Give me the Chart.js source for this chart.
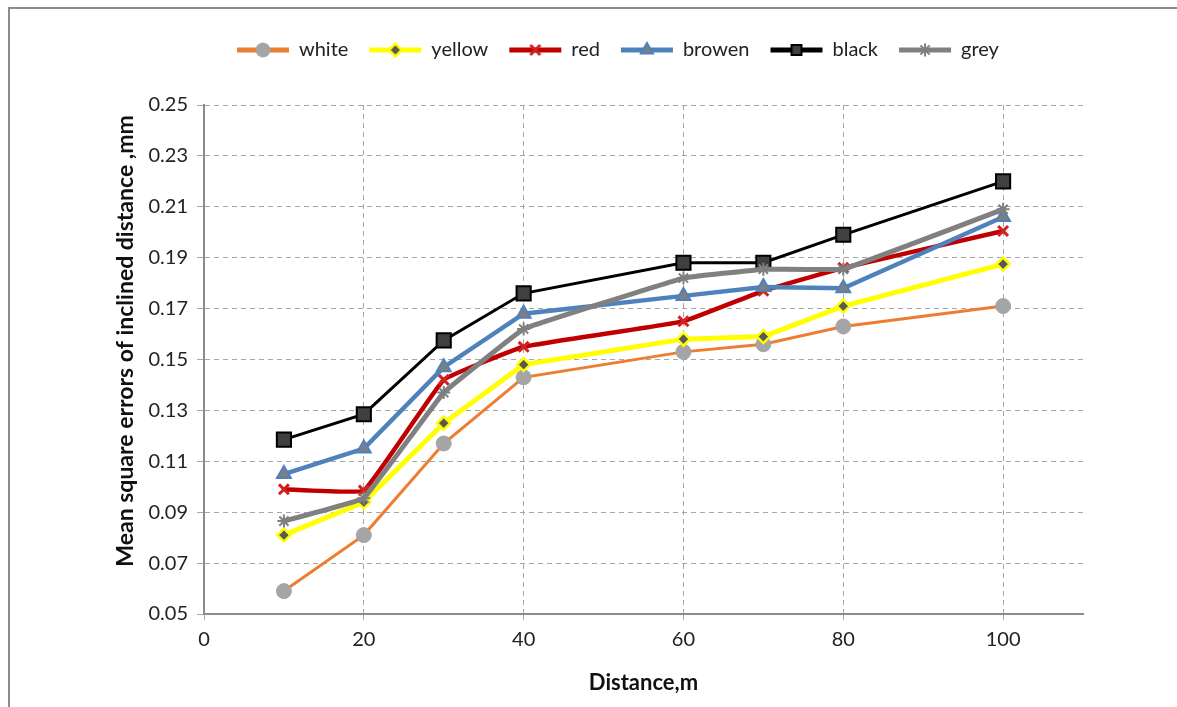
<!DOCTYPE html>
<html>
<head>
<meta charset="utf-8">
<script src="https://cdn.jsdelivr.net/npm/chart.js@4/dist/chart.umd.min.js"></script>
<style>
  body { margin: 0; background: #fff; }
  #wrap { position: relative; width: 1177px; height: 707px; }
</style>
</head>
<body>
<div id="wrap"><canvas id="chart" width="1177" height="707"></canvas></div>
<script>
// distances along x (m)
const distances = [10, 20, 30, 40, 60, 70, 80, 100];

// mean square errors per target colour (mm)
const white  = [0.059, 0.081, 0.117, 0.143, 0.153, 0.156, 0.163, 0.171];
const yellow = [0.081, 0.094, 0.125, 0.148, 0.158, 0.159, 0.171, 0.1875];
const red    = [0.099, 0.0985, 0.142, 0.155, 0.165, 0.177, 0.186, 0.2005];
const browen = [0.105, 0.115, 0.147, 0.168, 0.175, 0.1785, 0.178, 0.206];
const black  = [0.1185, 0.1285, 0.1575, 0.176, 0.188, 0.188, 0.199, 0.220];
const grey   = [0.0865, 0.0955, 0.137, 0.162, 0.182, 0.1855, 0.1855, 0.209];

const xTicks = [0, 20, 40, 60, 80, 100];
const yTicks = [0.05, 0.07, 0.09, 0.11, 0.13, 0.15, 0.17, 0.19, 0.21, 0.23, 0.25];

const yTitle = "Mean square errors of inclined distance ,mm";
const FONT = "Lato";

const seriesDefs = [
  { label: "white",  data: white,  line: "#ED7D31", lw: 3,   style: "circle",   r: 7.5, fill: "#A5A5A5", stroke: "#A5A5A5", bw: 1,   tension: 0 },
  { label: "yellow", data: yellow, line: "#FFFF00", lw: 5,   style: "rectRot",  r: 6.5, fill: "#595959", stroke: "#FFFF00", bw: 2.5, tension: 0 },
  { label: "red",    data: red,    line: "#C00000", lw: 4.5, style: "crossRot", r: 7,   fill: "#BFBFBF", stroke: "#D42020", bw: 3,   tension: 0.08 },
  { label: "browen", data: browen, line: "#4F81BD", lw: 4.5, style: "triangle", r: 8,   fill: "#7F7F7F", stroke: "#4F81BD", bw: 2,   tension: 0 },
  { label: "black",  data: black,  line: "#000000", lw: 3,   style: "rect",     r: 10,  fill: "#404040", stroke: "#000000", bw: 2,   tension: 0 },
  { label: "grey",   data: grey,   line: "#808080", lw: 5,   style: "star",     r: 6.5, fill: "#808080", stroke: "#7F7F7F", bw: 2,   tension: 0.05 }
];

// small line+marker swatch used as the legend symbol
function makeSwatch(s) {
  const c = document.createElement("canvas");
  c.width = 54; c.height = 20;
  const g = c.getContext("2d");
  g.strokeStyle = s.line;
  g.lineWidth = 5;
  g.beginPath(); g.moveTo(1, 10); g.lineTo(53, 10); g.stroke();
  g.fillStyle = s.fill;
  g.strokeStyle = s.stroke;
  g.lineWidth = s.bw;
  Chart.helpers.drawPoint(g, { pointStyle: s.style, radius: Math.min(s.r, 7), rotation: 0, borderWidth: s.bw }, 27, 10);
  return c;
}

const datasets = seriesDefs.map((s, i) => ({
  label: s.label,
  data: distances.map((d, j) => ({ x: d, y: s.data[j] })),
  borderColor: s.line,
  borderWidth: s.lw,
  tension: s.tension,
  pointStyle: s.style,
  pointRadius: s.r,
  pointBackgroundColor: s.fill,
  pointBorderColor: s.stroke,
  pointBorderWidth: s.bw,
  order: seriesDefs.length - i,
  swatch: makeSwatch(s)
}));

const layoutFix = {
  id: "layoutFix",
  beforeInit(chart) {
    const lg = chart.legend;
    const origFit = lg.fit;
    lg.fit = function () {
      origFit.call(this);
      this.height = 105;
    };
  },
  afterLayout(chart) {
    chart.legend.left = 216;
    chart.legend.top = 19;
  },
  afterDraw(chart) {
    const ctx = chart.ctx;
    ctx.save();
    // outer frame (left and top edges visible)
    ctx.strokeStyle = "#8C8C8C";
    ctx.lineWidth = 2;
    ctx.beginPath();
    ctx.moveTo(9, 707);
    ctx.lineTo(9, 8);
    ctx.lineTo(1177, 8);
    ctx.stroke();
    // y axis title
    ctx.translate(126, 341);
    ctx.rotate(-Math.PI / 2);
    ctx.fillStyle = "#111";
    ctx.font = "bold 23px " + FONT;
    ctx.textAlign = "center";
    ctx.textBaseline = "middle";
    ctx.fillText(yTitle, 0, 0);
    ctx.restore();
  }
};

new Chart(document.getElementById("chart").getContext("2d"), {
  type: "line",
  data: { datasets: datasets },
  plugins: [layoutFix],
  options: {
    responsive: false,
    animation: false,
    layout: { padding: { left: 0, right: 94, top: 0, bottom: 0 } },
    plugins: {
      tooltip: { enabled: false },
      legend: {
        position: "top",
        align: "start",
        labels: {
          usePointStyle: true,
          pointStyleWidth: 52,
          padding: 21,
          color: "#222",
          font: { family: FONT, size: 20 },
          generateLabels: (chart) => chart.data.datasets.map((ds, i) => ({
            text: ds.label,
            pointStyle: ds.swatch,
            fillStyle: ds.borderColor,
            strokeStyle: ds.borderColor,
            lineWidth: 0,
            hidden: false,
            datasetIndex: i,
            fontColor: "#222"
          }))
        }
      }
    },
    scales: {
      x: {
        type: "linear",
        min: 0,
        max: 110,
        afterFit: (scale) => { scale.height = 93; },
        afterBuildTicks: (scale) => { scale.ticks = xTicks.map(v => ({ value: v })); },
        grid: { color: "#A6A6A6", lineWidth: 1, tickLength: 6, tickColor: "#A6A6A6" },
        border: { color: "#8C8C8C", width: 2, dash: [5, 4], display: true },
        ticks: { color: "#222", font: { family: FONT, size: 20 }, padding: 8, maxRotation: 0 },
        title: { display: true, text: "Distance,m", color: "#111", font: { family: FONT, size: 22, weight: "bold" }, padding: { top: 0, bottom: 11 } }
      },
      y: {
        min: 0.05,
        max: 0.25,
        afterFit: (scale) => { scale.width = 204; },
        afterBuildTicks: (scale) => { scale.ticks = yTicks.map(v => ({ value: v })); },
        grid: { color: "#A6A6A6", lineWidth: 1, tickLength: 7, tickColor: "#A6A6A6" },
        border: { color: "#8C8C8C", width: 2, dash: [5, 4], display: true },
        ticks: { color: "#222", font: { family: FONT, size: 20 }, padding: 9, callback: (v) => v.toFixed(2) },
        title: { display: false }
      }
    }
  }
});
</script>
</body>
</html>
